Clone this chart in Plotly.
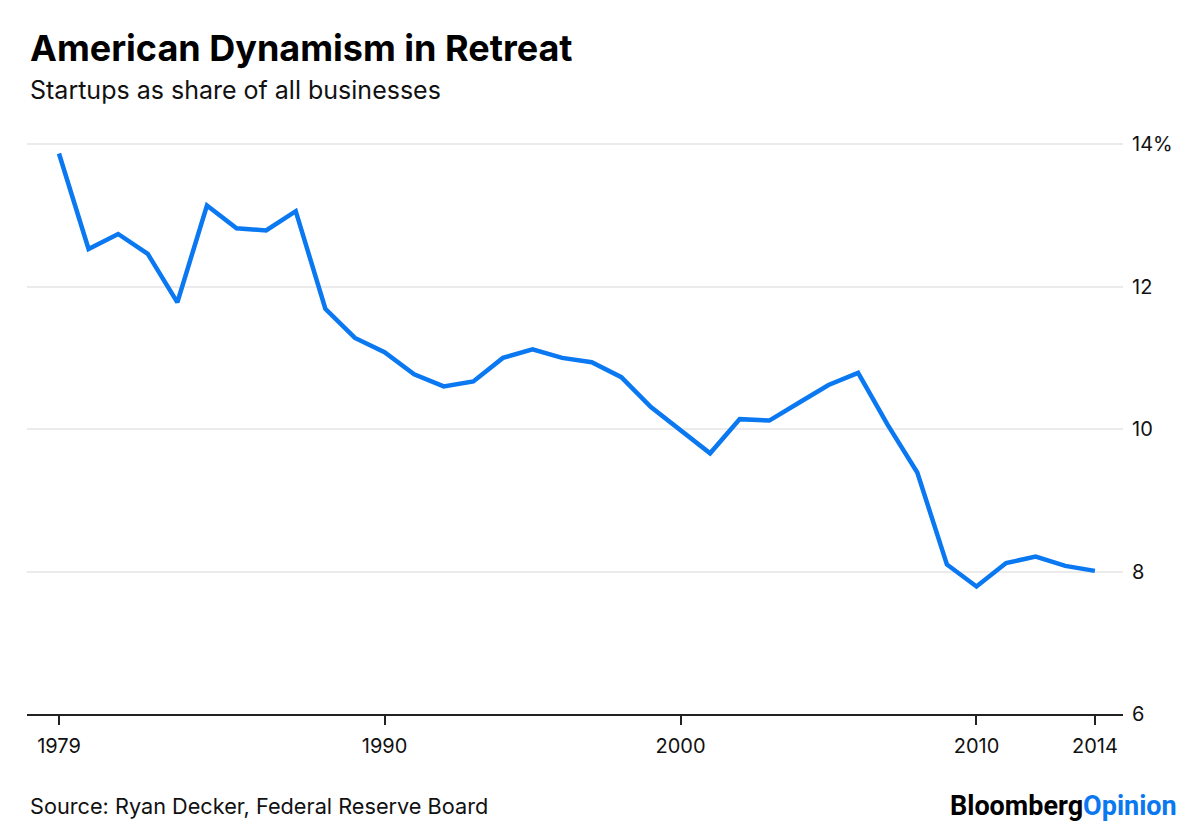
import plotly.graph_objects as go

years = list(range(1979, 2015))
startup_share = [13.87, 12.53, 12.74, 12.46, 11.78, 13.14, 12.82, 12.79, 13.06, 11.69,
                 11.28, 11.08, 10.77, 10.60, 10.67, 11.00, 11.12, 11.00, 10.94, 10.73,
                 10.31, 9.99, 9.66, 10.14, 10.12, 10.37, 10.62, 10.79, 10.06, 9.39,
                 8.10, 7.79, 8.12, 8.21, 8.08, 8.01]

x_ticks = [1979, 1990, 2000, 2010, 2014]
y_ticks = [6, 8, 10, 12, 14]
y_tick_labels = ["6", "8", "10", "12", "14%"]

FONT = "Inter, Roboto, Liberation Sans, sans-serif"

# page body offset (browser default margin)
OFF = 8
W, H = 1200, 833
L, R, T, B = 27 - OFF, 77 + OFF, 130 - OFF, 119 + OFF

fig = go.Figure()
fig.add_trace(go.Scatter(x=years, y=startup_share, mode="lines",
                         line=dict(color="#0A78F0", width=4.5),
                         hoverinfo="x+y"))

fig.update_layout(
    width=W, height=H,
    paper_bgcolor="white", plot_bgcolor="white",
    margin=dict(l=L, r=R, t=T, b=B),
    showlegend=False,
    font=dict(family=FONT, color="#111111"),
    xaxis=dict(range=[1977.92, 2014.95], tickmode="array", tickvals=x_ticks,
               ticks="outside", ticklen=9, tickwidth=1.5, tickcolor="#222222",
               showline=True, linecolor="#222222", linewidth=1.5,
               showgrid=False, zeroline=False, ticklabelstandoff=4,
               tickfont=dict(size=20, family=FONT, color="#111111")),
    yaxis=dict(range=[6, 14.2], side="right", tickmode="array", tickvals=y_ticks,
               ticktext=y_tick_labels, ticks="", showline=False,
               showgrid=True, gridcolor="#ebebeb", gridwidth=1.5, zeroline=False,
               ticklabelstandoff=8,
               tickfont=dict(size=20, family=FONT, color="#111111")),
)

pw = W - L - R
ph = H - T - B


def px_anno(text, x, y, size, anchor="left", family=FONT, color="#111111"):
    fig.add_annotation(text=text, xref="paper", yref="paper",
                       x=(x - OFF - L) / pw, y=1 - (y - OFF - T) / ph,
                       xanchor=anchor, yanchor="middle", showarrow=False,
                       font=dict(size=size, family=family, color=color))


px_anno("<b>American Dynamism in Retreat</b>", 28, 48, 36, color="#000000")
px_anno("Startups as share of all businesses", 28, 90, 25)
px_anno("Source: Ryan Decker, Federal Reserve Board", 28, 806, 21.7)
px_anno("<b>Bloomberg</b><b><span style='color:#0A78F0'>Opinion</span></b>", 1179, 806, 27,
        anchor="right", family="Roboto, Inter, sans-serif", color="#000000")

fig.write_html("out.html")
